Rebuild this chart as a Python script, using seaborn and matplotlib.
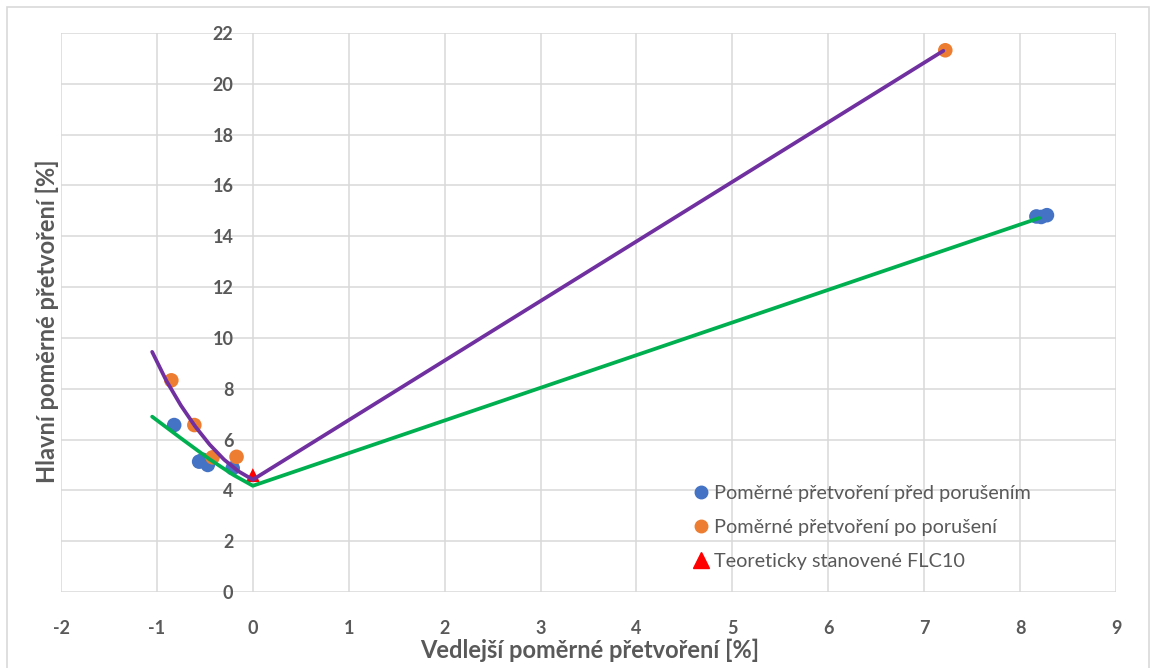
import numpy as np
import pandas as pd
import matplotlib
matplotlib.use("Agg")
import matplotlib.pyplot as plt
import seaborn as sns
from matplotlib.patches import Rectangle
from matplotlib.lines import Line2D

# measured points
pred_x = [-0.82, -0.56, -0.52, -0.47, -0.21, 8.17, 8.22, 8.28]
pred_y = [6.57, 5.13, 5.2, 5.0, 4.87, 14.78, 14.76, 14.83]
po_x = [-0.85, -0.61, -0.42, -0.17, 7.22]
po_y = [8.33, 6.57, 5.3, 5.32, 21.32]
flc_x = [0.0]
flc_y = [4.6]

# trend curves
fial_x = [-1.05, -0.9, -0.75, -0.6, -0.45, -0.3, -0.15, 0.0, 7.2]
fial_y = [9.45, 8.3, 7.34, 6.51, 5.8, 5.21, 4.75, 4.42, 21.3]
zel_x = [-1.05, -0.75, -0.45, -0.2, 0.0, 8.2]
zel_y = [6.9, 6.05, 5.22, 4.6, 4.18, 14.72]

lab_pred = "Poměrné přetvoření před porušením"
lab_po = "Poměrné přetvoření po porušení"
lab_flc = "Teoreticky stanovené FLC10"

sns.set_style("white")
plt.rcParams['font.family'] = ['Lato', 'DejaVu Sans']
plt.rcParams['axes.unicode_minus'] = False
grey = "#595959"

fig = plt.figure(figsize=(11.56, 6.68), dpi=100)
ax = fig.add_axes([0.0528, 0.1138, 0.9126, 0.8368])
fig.patches.append(Rectangle((0.006, -0.01), 0.988, 0.999, transform=fig.transFigure,
                             fill=False, edgecolor="#D9D9D9", linewidth=1.2))

sns.scatterplot(x=pred_x, y=pred_y, color="#4472C4", s=110, edgecolor="none", ax=ax, zorder=3)
sns.scatterplot(x=po_x, y=po_y, color="#ED7D31", s=110, edgecolor="none", ax=ax, zorder=3)
sns.scatterplot(x=flc_x, y=flc_y, color="#FF0000", marker="^", s=100, edgecolor="none", ax=ax, zorder=3)

df_f = pd.DataFrame({"x": fial_x, "y": fial_y})
df_z = pd.DataFrame({"x": zel_x, "y": zel_y})
sns.lineplot(data=df_f, x="x", y="y", sort=False, color="#7030A0", linewidth=2.7, ax=ax, zorder=4)
sns.lineplot(data=df_z, x="x", y="y", sort=False, color="#00B050", linewidth=2.7, ax=ax, zorder=4)

ax.set_xlim(-2, 9)
ax.set_ylim(0, 22)
ax.set_xticks(range(-2, 10))
ax.set_yticks(range(0, 23, 2))
ax.grid(True, color="#D9D9D9", linewidth=1.1)
ax.set_axisbelow(True)
for sp in ax.spines.values():
    sp.set_visible(False)
ax.spines['left'].set_position(('data', 0))
ax.tick_params(axis='both', length=0, labelsize=13, labelcolor=grey)
ax.tick_params(axis='x', pad=20)
ax.tick_params(axis='y', pad=14)
for t in ax.get_xticklabels() + ax.get_yticklabels():
    t.set_fontweight("bold")

ax.set_ylabel("")
ax.set_xlabel("")
fig.text(0.510, 0.027, "Vedlejší poměrné přetvoření [%]", fontsize=17, fontweight="bold",
         color=grey, ha="center", va="center")
fig.text(0.041, 0.519, "Hlavní poměrné přetvoření [%]", rotation=90, fontsize=17,
         fontweight="bold", color=grey, ha="center", va="center")

handles = [
    Line2D([], [], marker="o", linestyle="none", color="#4472C4", markersize=9),
    Line2D([], [], marker="o", linestyle="none", color="#ED7D31", markersize=9),
    Line2D([], [], marker="^", linestyle="none", color="#FF0000", markersize=11),
]
leg = ax.legend(handles, [lab_pred, lab_po, lab_flc], loc="lower right", bbox_to_anchor=(0.936, 0.008),
                frameon=False, fontsize=14.3, handletextpad=0.15, labelspacing=0.85,
                handlelength=1.0, borderaxespad=0.5)
for t in leg.get_texts():
    t.set_color(grey)
leg.set_zorder(5)

fig.savefig("out.png", dpi=100)
